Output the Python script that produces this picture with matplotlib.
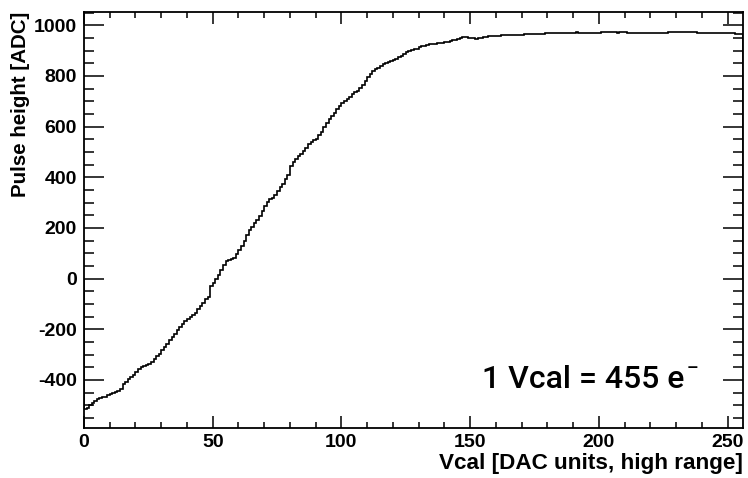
import matplotlib
matplotlib.use("Agg")
import matplotlib.pyplot as plt
from matplotlib.ticker import MultipleLocator
import numpy as np

plt.rcParams["axes.unicode_minus"] = False

# Vcal scan, one value per DAC bin (0..255)
vcal_edges = np.arange(0, 257)
pulse_height = [
    -515, -512, -498, -490, -482, -477, -472, -469, -466, -461,
    -457, -452, -447, -442, -436, -415, -408, -398, -390, -380,
    -367, -358, -350, -346, -342, -338, -330, -318, -305, -296,
    -284, -270, -257, -244, -230, -218, -205, -192, -180, -166,
    -158, -152, -145, -135, -122, -110, -97, -82, -72, -28,
    -18, 0, 12, 35, 55, 68, 72, 76, 80, 98,
    112, 128, 150, 172, 190, 205, 220, 232, 245, 265,
    285, 302, 312, 318, 330, 345, 360, 375, 392, 408,
    445, 458, 470, 482, 493, 502, 516, 530, 540, 546,
    552, 565, 580, 598, 614, 628, 640, 655, 670, 680,
    692, 700, 710, 718, 728, 736, 742, 752, 765, 780,
    795, 808, 820, 826, 830, 838, 845, 850, 855, 860,
    864, 868, 873, 880, 887, 893, 898, 902, 905, 907,
    912, 916, 919, 922, 924, 926, 927, 928, 929, 931,
    933, 935, 937, 940, 943, 946, 950, 953, 952, 950,
    949, 948, 947, 949, 951, 953, 955, 956, 956, 957,
    958, 959, 960, 961, 961, 962, 962, 963, 963, 963,
    963, 964, 964, 965, 965, 965, 966, 967, 967, 968,
    968, 969, 969, 968, 969, 969, 970, 970, 971, 971,
    971, 972, 971, 970, 969, 969, 970, 970, 971, 971,
    971, 972, 972, 973, 972, 972, 972, 971, 972, 972,
    972, 971, 970, 970, 969, 970, 970, 969, 969, 969,
    969, 969, 970, 970, 970, 971, 971, 972, 972, 973,
    972, 973, 974, 975, 974, 974, 973, 972, 971, 971,
    971, 970, 970, 970, 971, 970, 970, 970, 969, 969,
    969, 968, 968, 967, 967, 966,
]

W, H = 748, 478
fig = plt.figure(figsize=(W / 100, H / 100), dpi=100)
ax = fig.add_axes([84 / W, (H - 428) / H, (743 - 84) / W, (428 - 12) / H])

ax.stairs(pulse_height, vcal_edges, color="black", lw=1.2)

ax.set_xlim(0, 256)
ax.set_ylim(-590, 1052)

ax.xaxis.set_major_locator(MultipleLocator(50))
ax.xaxis.set_minor_locator(MultipleLocator(10))
ax.yaxis.set_major_locator(MultipleLocator(200))
ax.yaxis.set_minor_locator(MultipleLocator(50))

ax.tick_params(axis="both", which="both", direction="in", top=True, right=True,
               width=1.1, color="black")
ax.tick_params(axis="x", which="major", length=8.6, pad=4)
ax.tick_params(axis="x", which="minor", length=4.3)
ax.tick_params(axis="y", which="major", length=14.4, pad=5)
ax.tick_params(axis="y", which="minor", length=7.2)

for spine in ax.spines.values():
    spine.set_linewidth(1.3)

for lab in ax.get_xticklabels() + ax.get_yticklabels():
    lab.set_fontfamily("Liberation Sans")
    lab.set_fontweight("bold")
    lab.set_fontsize(14)

ax.set_xlabel("Vcal [DAC units, high range]", loc="right", labelpad=2,
              fontfamily="Liberation Sans", fontweight="bold", fontsize=16.2)
ax.set_ylabel("Pulse height [ADC]", loc="top", labelpad=3,
              fontfamily="Liberation Sans", fontweight="bold", fontsize=14.8)

# calibration note, bottom right
ax.text(0.9115, 0.095, "1 Vcal = 455 e", transform=ax.transAxes,
        ha="right", va="baseline", fontfamily="Roboto", fontweight="medium",
        fontsize=23)
ax.text(0.914, 0.13, "\u2013", transform=ax.transAxes,
        ha="left", va="baseline", fontfamily="Roboto", fontweight="medium",
        fontsize=13)

fig.savefig("out.png", dpi=100)
